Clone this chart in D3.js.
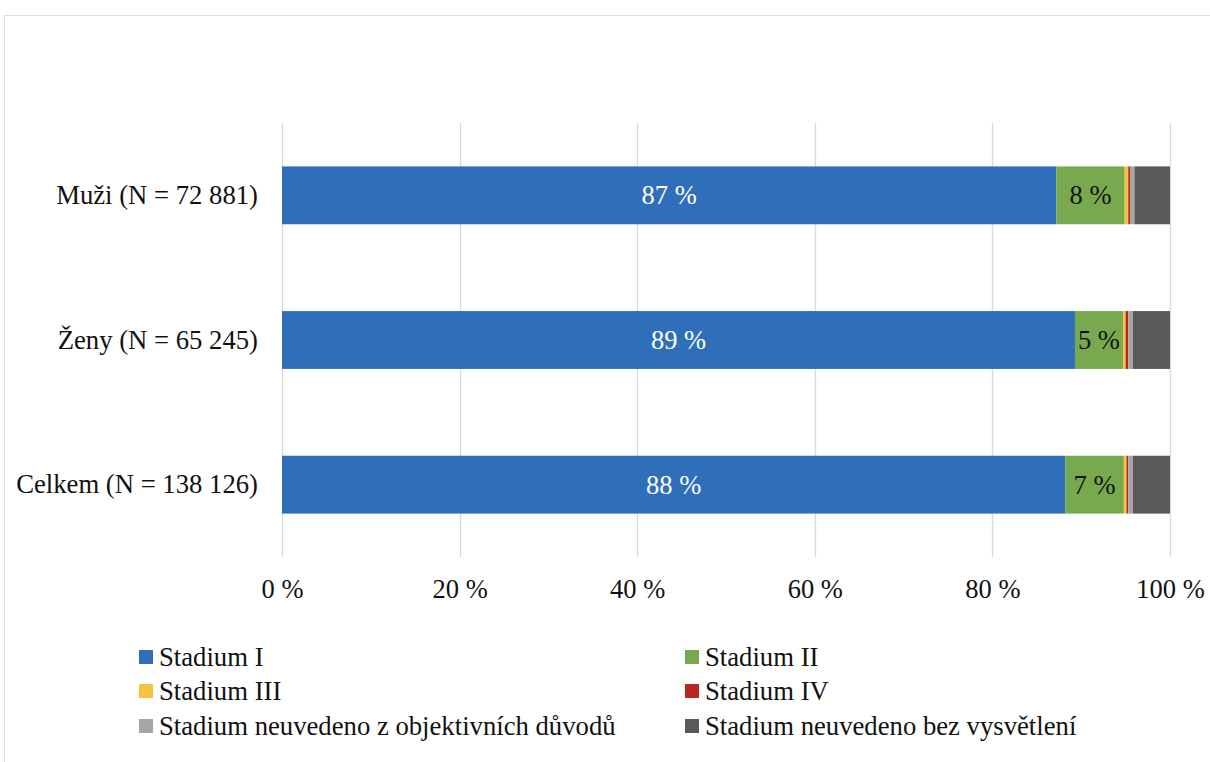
<!DOCTYPE html>
<html><head><meta charset="utf-8">
<script src="https://cdn.jsdelivr.net/npm/d3@7"></script>
<style>html,body{margin:0;padding:0;background:#fff;}svg{display:block;}
svg text{font-family:"Liberation Serif","Times New Roman",Times,"DejaVu Serif",serif;}</style>
</head><body>
<svg id="chart" width="1210" height="762"></svg>
<script>
const categories = ["Muži (N = 72 881)", "Ženy (N = 65 245)", "Celkem (N = 138 126)"];
const seriesNames = ["Stadium I", "Stadium II", "Stadium III", "Stadium IV",
  "Stadium neuvedeno z objektivních důvodů", "Stadium neuvedeno bez vysvětlení"];
const stageI   = [87.2, 89.3, 88.2];
const stageII  = [7.7, 5.4, 6.6];
const stageIII = [0.4, 0.3, 0.3];
const stageIV  = [0.2, 0.3, 0.2];
const unknownObjective = [0.5, 0.5, 0.5];
const unknownNoReason  = [4.0, 4.2, 4.2];
const tickValues = [0, 20, 40, 60, 80, 100];
const colors = ["#2F6FBA", "#78A94F", "#F6C242", "#B8271F", "#A5A5A5", "#595959"];
const labelColors = ["#ffffff", "#111111"];

const seriesValues = [stageI, stageII, stageIII, stageIV, unknownObjective, unknownNoReason];
const svg = d3.select("#chart");

// frame
svg.append("line").attr("x1",4.5).attr("x2",1210).attr("y1",15.5).attr("y2",15.5).attr("stroke","#dcdcdc").attr("stroke-width",1);
svg.append("line").attr("x1",4.5).attr("x2",4.5).attr("y1",15.5).attr("y2",762).attr("stroke","#dcdcdc").attr("stroke-width",1);

const x = d3.scaleLinear().domain([0,100]).range([282,1170]);
const y = d3.scaleBand().domain(categories).range([123,557]).paddingInner(0.6).paddingOuter(0.3);

// gridlines
svg.append("g").selectAll("line").data(tickValues).join("line")
  .attr("x1", d => Math.round(x(d))+0.5).attr("x2", d => Math.round(x(d))+0.5)
  .attr("y1", 123).attr("y2", 557).attr("stroke","#d9d9d9").attr("stroke-width",1.3);

// stacked data
const rows = categories.map((c,i) => {
  const o = {cat:c};
  seriesNames.forEach((s,j) => o[s] = seriesValues[j][i]);
  return o;
});
const stack = d3.stack().keys(seriesNames)(rows);

const g = svg.append("g");
stack.forEach((layer, j) => {
  g.append("g").attr("fill", colors[j]).selectAll("rect").data(layer).join("rect")
    .attr("x", d => x(d[0])).attr("width", d => x(d[1]) - x(d[0]))
    .attr("y", d => y(d.data.cat)).attr("height", y.bandwidth());
});
// data labels for Stadium I and II
[0,1].forEach(j => {
  g.append("g").selectAll("text").data(stack[j]).join("text")
    .attr("x", d => (x(d[0]) + x(d[1]))/2)
    .attr("y", d => y(d.data.cat) + y.bandwidth()/2)
    .attr("text-anchor","middle").attr("dominant-baseline","central")
    .attr("font-size", 26.5).attr("fill", labelColors[j])
    .text(d => Math.round(d[1]-d[0]) + " %");
});

// x axis labels
const xAxis = d3.axisBottom(x).tickValues(tickValues).tickSize(0).tickFormat(d => d + " %");
const xa = svg.append("g").attr("transform","translate(0,576)").call(xAxis);
xa.attr("font-family", null).attr("font-size", null);
xa.select(".domain").remove();
xa.selectAll("text").attr("font-size", 26.5).attr("fill","#111").attr("dy","0.71em");

// y axis labels
const yAxis = d3.axisLeft(y).tickSize(0).tickPadding(24);
const ya = svg.append("g").attr("transform","translate(282,0)").call(yAxis);
ya.attr("font-family", null).attr("font-size", null);
ya.select(".domain").remove();
ya.selectAll("text").attr("font-size", 26.7).attr("fill","#111");

// legend
const legendX = [139, 685];
const legendY = [657, 691, 726];
const lg = svg.append("g");
seriesNames.forEach((s, i) => {
  const cx = legendX[i % 2], cy = legendY[Math.floor(i/2)];
  lg.append("rect").attr("x", cx).attr("y", cy - 7).attr("width", 14).attr("height", 14).attr("fill", colors[i]);
  lg.append("text").attr("x", cx + 20).attr("y", cy).attr("dominant-baseline","central")
    .attr("font-size", 26.7).attr("fill","#111").text(s);
});
</script>
</body></html>
